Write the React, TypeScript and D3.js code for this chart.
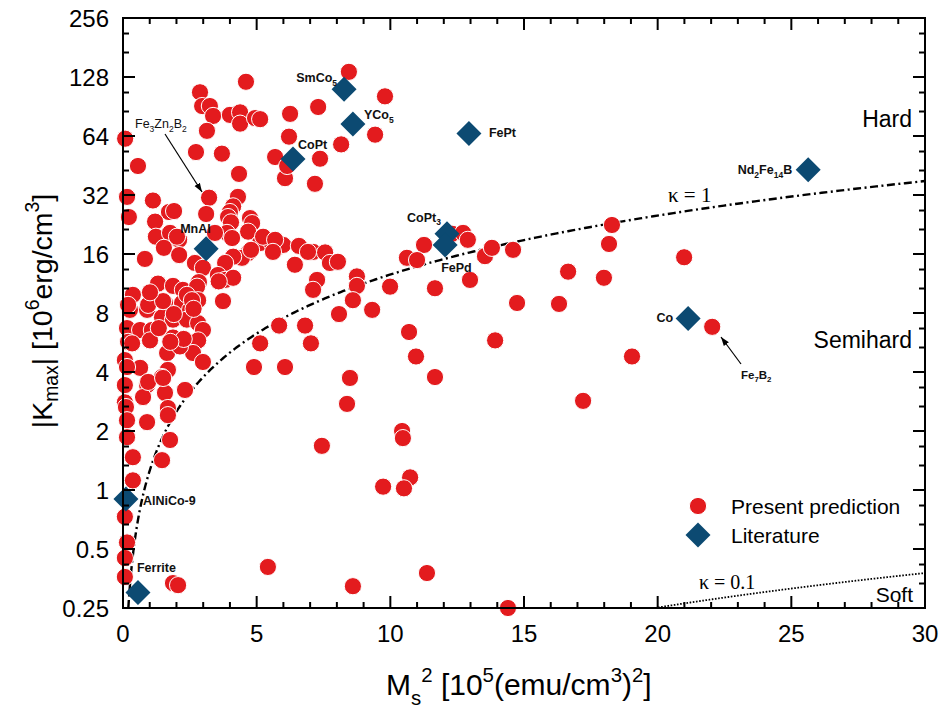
import React from 'react';
import * as d3 from 'd3';

const W = 944;
const H = 709;

// Present prediction: Ms^2 [10^5 (emu/cm3)^2] and |Kmax| [10^6 erg/cm3]
const predX = [
  8.45, 4.60, 2.88, 2.96, 3.25, 3.37, 4.00, 4.38, 4.38, 4.94, 5.13, 3.14, 2.73, 3.70, 4.34, 4.30, 0.08, 0.56, 9.80, 7.30,
  6.25, 6.21, 9.43, 8.16, 5.69, 7.37, 6.06, 7.18, 6.14,
  0.15, 0.22, 1.12, 1.72, 1.91, 1.20, 1.23, 1.76, 2.10, 1.53, 2.10, 0.82, 3.22, 3.11, 4.12, 4.00, 3.93, 4.04, 3.89, 3.44,
  4.75, 4.83, 4.68, 4.08, 5.13, 5.57, 5.80, 5.99, 6.58, 7.11, 4.68, 4.45, 4.12, 3.82, 2.69, 2.99, 3.55, 3.82, 2.84, 4.12,
  3.74, 6.43, 6.92, 7.56, 7.74, 8.04, 7.26, 7.11, 8.75, 8.75, 8.60, 9.99, 8.08, 9.32, 5.84, 6.81, 5.13, 7.03, 4.90, 6.06,
  5.24, 5.69, 4.79, 5.61, 2.02,
  11.26, 10.62, 11.0, 11.67, 12.31, 12.72, 12.9, 12.98, 13.54, 13.8, 14.59, 18.29, 18.18, 20.99, 16.65, 17.99, 14.74,
  16.31, 13.92, 19.04, 22.04, 17.21, 10.70, 10.96, 11.67, 8.49, 8.38, 10.44, 10.47, 7.44, 10.74, 9.73, 10.51, 5.42,
  11.37, 8.60, 14.40,
  1.31, 1.87, 2.24, 2.77, 0.37, 0.26, 0.90, 1.57, 2.21, 2.51, 1.46, 1.87, 2.39, 2.81, 2.99, 0.15, 0.64, 1.08, 0.19, 1.87,
  2.39, 2.81, 1.65, 2.62, 2.99, 0.07, 0.64, 1.68, 1.46, 0.07, 0.90, 0.75, 1.57, 2.32, 0.07, 1.68, 0.34, 1.01, 2.13, 0.15,
  0.94, 1.50, 0.11, 1.68, 0.90, 1.76, 0.15, 0.15, 0.37, 1.46, 0.37, 0.07, 0.15, 0.07, 0.07, 1.87, 2.06, 0.19, 0.94, 1.50,
  2.39, 2.81,
  2.58, 2.64, 1.90, 2.27, 1.34, 1.77, 1.01, 3.58,
];
const predY = [
  136, 121, 107, 91, 91, 81, 82, 84.5, 74, 79, 78, 68, 53, 52, 41, 31.3, 62, 45, 102, 90,
  83, 63.5, 65, 58, 50, 49, 39, 36.5, 45,
  31.3, 24.7, 30, 26.2, 26.5, 23.4, 19.6, 20.5, 18.9, 17.2, 15.8, 15.1, 31, 25.6, 28, 26.2, 24.7, 23.2, 20.5, 20.5,
  24.4, 23, 20.8, 19.3, 18.2, 18.2, 17.4, 17.8, 17.6, 16.4, 16.2, 15.3, 15.5, 14.4, 14.4, 13.6, 12.5, 11.8, 11.5, 12.1,
  9.2, 14.1, 16.4, 16.3, 14.4, 14.6, 11.8, 10.5, 12.3, 11.0, 9.3, 10.9, 7.9, 8.3, 6.9, 6.9, 5.6, 5.6, 4.24, 4.24,
  19.6, 18.9, 16.8, 16.4, 19.6,
  17.8, 15.3, 14.9, 10.7, 20.3, 20.5, 18.9, 11.8, 15.6, 17.2, 16.8, 22.5, 18.0, 15.4, 13.0, 12.1, 9.0,
  8.9, 5.8, 4.8, 6.8, 2.85, 6.4, 4.8, 3.77, 3.73, 2.75, 2.0, 1.84, 1.68, 1.16, 1.04, 1.02, 0.405,
  0.377, 0.323, 0.25,
  11.3, 11.0, 10.5, 10.9, 9.9, 8.3, 8.3, 9.0, 9.0, 8.3, 7.6, 7.4, 7.4, 7.1, 6.55, 6.7, 6.55, 6.55, 5.7, 6.0,
  5.5, 5.8, 5.0, 5.0, 4.5, 4.6, 4.2, 4.1, 3.77, 3.43, 3.43, 2.98, 3.13, 3.24, 2.8, 2.62, 5.6, 5.8, 5.4, 4.24,
  3.56, 3.73, 2.65, 2.41, 2.22, 1.80, 2.27, 1.86, 1.47, 1.42, 1.12, 0.73, 0.54, 0.45, 0.36, 0.335, 0.327, 8.8, 8.8, 9.2,
  9.9, 9.3,
  9.3, 8.4, 7.9, 5.9, 6.7, 5.7, 10.2, 11.6,
];

// Literature magnets
const litNames = ['SmCo_5', 'YCo_5', 'CoPt', 'FePt', 'Nd_2Fe_14B', 'CoPt_3', 'FePd', 'MnAl', 'Co', 'AlNiCo-9', 'Ferrite'];
const litX = [8.27, 8.6, 6.36, 12.94, 25.63, 12.12, 12.05, 3.11, 21.14, 0.11, 0.56];
const litY = [111, 73.7, 48.9, 66, 43, 20.3, 17.8, 17.0, 7.5, 0.90, 0.30];
// label placement relative to marker (layout)
const litLabelPos: [number, number, string][] = [
  [-7, -7, 'end'], [11, -5, 'start'], [5, -10, 'start'], [20, 4, 'start'], [-16, 4, 'end'],
  [-40, -12, 'start'], [-4, 27, 'start'], [-26, -16, 'start'], [-15, 4, 'end'], [17, 6, 'start'], [-1, -20, 'start'],
];

const xTicks = [0, 5, 10, 15, 20, 25, 30];
const yTicks = [0.25, 0.5, 1, 2, 4, 8, 16, 32, 64, 128, 256];
const yTickLabels = ['0.25', '0.5', '1', '2', '4', '8', '16', '32', '64', '128', '256'];

const kappaValues = [1, 0.1];

const RED = '#e31b1e';
const BLUE = '#0c4a72';
const SANS = '"Liberation Sans", Arial, sans-serif';
const SERIF = '"Liberation Serif", "Times New Roman", serif';

function parseRich(s: string) {
  const parts: { t: string; m: number }[] = [];
  const re = /([_^])(\{[^}]*\}|[0-9]+)/g;
  let last = 0;
  let m: RegExpExecArray | null;
  while ((m = re.exec(s))) {
    if (m.index > last) parts.push({ t: s.slice(last, m.index), m: 0 });
    let v = m[2];
    if (v.startsWith('{')) v = v.slice(1, -1);
    parts.push({ t: v, m: m[1] === '_' ? 1 : -1 });
    last = m.index + m[0].length;
  }
  if (last < s.length) parts.push({ t: s.slice(last), m: 0 });
  return parts;
}

function Rich({ s, fs, subShift = 0.3, supShift = 0.42 }: { s: string; fs: number; subShift?: number; supShift?: number }) {
  const parts = parseRich(s);
  let cur = 0;
  return (
    <>
      {parts.map((p, i) => {
        const target = p.m === 1 ? subShift * fs : p.m === -1 ? -supShift * fs : 0;
        const dy = target - cur;
        cur = target;
        return (
          <tspan key={i} dy={dy} fontSize={p.m === 0 ? fs : fs * 0.68}>
            {p.t}
          </tspan>
        );
      })}
    </>
  );
}

export default function App() {
  const left = 123, right = 925, top = 18, bottom = 608;
  const x = d3.scaleLinear().domain([0, 30]).range([left, right]);
  const y = d3.scaleLog().base(2).domain([0.25, 256]).range([bottom, top]);

  const xMinor = d3.range(0, 31, 1).filter((v) => v % 5 !== 0);
  const yMinor: number[] = [];
  yTicks.slice(0, -1).forEach((v) => {
    yMinor.push(v * (1 + 1 / 3), v * (1 + 2 / 3));
  });

  const curve = (kappa: number) => {
    const K = (xv: number) => 0.4 * Math.PI * kappa * kappa * xv;
    const x0 = 0.25 / (0.4 * Math.PI * kappa * kappa);
    const n = 400;
    const xs = d3.range(n + 1).map((i) => x0 * Math.pow(30 / x0, i / n));
    return d3
      .line<number>()
      .x((d) => x(d))
      .y((d) => y(K(d)))(xs) as string;
  };

  const diamond = (cx: number, cy: number, r: number) =>
    `M${cx},${cy - r}L${cx + r},${cy}L${cx},${cy + r}L${cx - r},${cy}Z`;

  const MAJ = 12, MIN = 6;

  return (
    <svg width={W} height={H} style={{ position: 'absolute', left: 0, top: 0, background: '#fff' }} fontFamily={SANS}>
      <defs>
        <marker id="arr" viewBox="0 0 10 10" refX="10" refY="5" markerWidth="9" markerHeight="9" orient="auto" markerUnits="userSpaceOnUse">
          <path d="M0,1.5L10,5L0,8.5Z" fill="#000" />
        </marker>
      </defs>
      <rect x={0} y={0} width={W} height={H} fill="#fff" />

      {/* criterion curves */}
      <path d={curve(kappaValues[0])} fill="none" stroke="#000" strokeWidth={2.4} strokeDasharray="8,3.5,2,3.5" />
      <path d={curve(kappaValues[1])} fill="none" stroke="#000" strokeWidth={1.8} strokeDasharray="1.6,1.6" />

      {/* predictions */}
      {predX.map((xv, i) => (
        <circle key={i} cx={x(xv)} cy={y(predY[i])} r={8.6} fill={RED} stroke="#fff" strokeWidth={1} />
      ))}

      {/* literature */}
      {litX.map((xv, i) => (
        <path key={i} d={diamond(x(xv), y(litY[i]), 12.5)} fill={BLUE} />
      ))}
      {litNames.map((n, i) => {
        const [dx, dy, anchor] = litLabelPos[i];
        return (
          <text key={i} x={x(litX[i]) + dx} y={y(litY[i]) + dy} fontSize={12.5} fontWeight="bold" textAnchor={anchor as any} fill="#111">
            <Rich s={n} fs={12.5} />
          </text>
        );
      })}

      {/* annotations */}
      <text x={135} y={128} fontSize={12.5} fill="#111">
        <Rich s="Fe_3Zn_2B_2" fs={12.5} />
      </text>
      <line x1={165} y1={134} x2={202} y2={192} stroke="#000" strokeWidth={1.2} markerEnd="url(#arr)" />
      <text x={741} y={379} fontSize={11.5} fontWeight="bold" fill="#111">
        <Rich s="Fe_7B_2" fs={11.5} />
      </text>
      <line x1={741} y1={364} x2={721} y2={337} stroke="#000" strokeWidth={1.2} markerEnd="url(#arr)" />

      {/* region labels */}
      <text x={912} y={127} fontSize={23} textAnchor="end">Hard</text>
      <text x={912} y={348} fontSize={23} textAnchor="end">Semihard</text>
      <text x={913} y={602} fontSize={21} textAnchor="end">Soft</text>
      <text x={668} y={202} fontSize={21} fontFamily={SERIF}>κ = 1</text>
      <text x={699} y={589} fontSize={20} fontFamily={SERIF}>κ = 0.1</text>

      {/* legend */}
      <circle cx={698} cy={506} r={8.6} fill={RED} stroke="#fff" strokeWidth={1} />
      <text x={731} y={513.5} fontSize={21}>Present prediction</text>
      <path d={diamond(698, 535, 12.5)} fill={BLUE} />
      <text x={731} y={542.5} fontSize={21}>Literature</text>

      {/* frame */}
      <rect x={left} y={top} width={right - left} height={bottom - top} fill="none" stroke="#000" strokeWidth={2} />
      {/* x ticks */}
      {xTicks.map((v) => (
        <g key={'xt' + v}>
          <line x1={x(v)} x2={x(v)} y1={bottom} y2={bottom - MAJ} stroke="#000" strokeWidth={2} />
          <line x1={x(v)} x2={x(v)} y1={top} y2={top + MAJ} stroke="#000" strokeWidth={2} />
          <text x={x(v)} y={642} fontSize={24} textAnchor="middle">{v}</text>
        </g>
      ))}
      {xMinor.map((v) => (
        <g key={'xm' + v}>
          <line x1={x(v)} x2={x(v)} y1={bottom} y2={bottom - MIN} stroke="#000" strokeWidth={2} />
          <line x1={x(v)} x2={x(v)} y1={top} y2={top + MIN} stroke="#000" strokeWidth={2} />
        </g>
      ))}
      {/* y ticks */}
      {yTicks.map((v, i) => (
        <g key={'yt' + v}>
          <line x1={left} x2={left + MAJ} y1={y(v)} y2={y(v)} stroke="#000" strokeWidth={2} />
          <line x1={right} x2={right - MAJ} y1={y(v)} y2={y(v)} stroke="#000" strokeWidth={2} />
          <text x={109} y={y(v) + 8.5} fontSize={24} textAnchor="end">{yTickLabels[i]}</text>
        </g>
      ))}
      {yMinor.map((v, i) => (
        <g key={'ym' + i}>
          <line x1={left} x2={left + MIN} y1={y(v)} y2={y(v)} stroke="#000" strokeWidth={2} />
          <line x1={right} x2={right - MIN} y1={y(v)} y2={y(v)} stroke="#000" strokeWidth={2} />
        </g>
      ))}

      {/* axis titles */}
      <text x={386} y={695} fontSize={30}>
        <Rich s="M_{s}^2 [10^5(emu/cm^3)^2]" fs={30} subShift={0.33} supShift={0.45} />
      </text>
      <text transform="translate(52,311) rotate(-90)" fontSize={28.5} textAnchor="middle">
        <Rich s="|K_{max}| [10^6erg/cm^3]" fs={28.5} subShift={0.22} supShift={0.45} />
      </text>
    </svg>
  );
}
